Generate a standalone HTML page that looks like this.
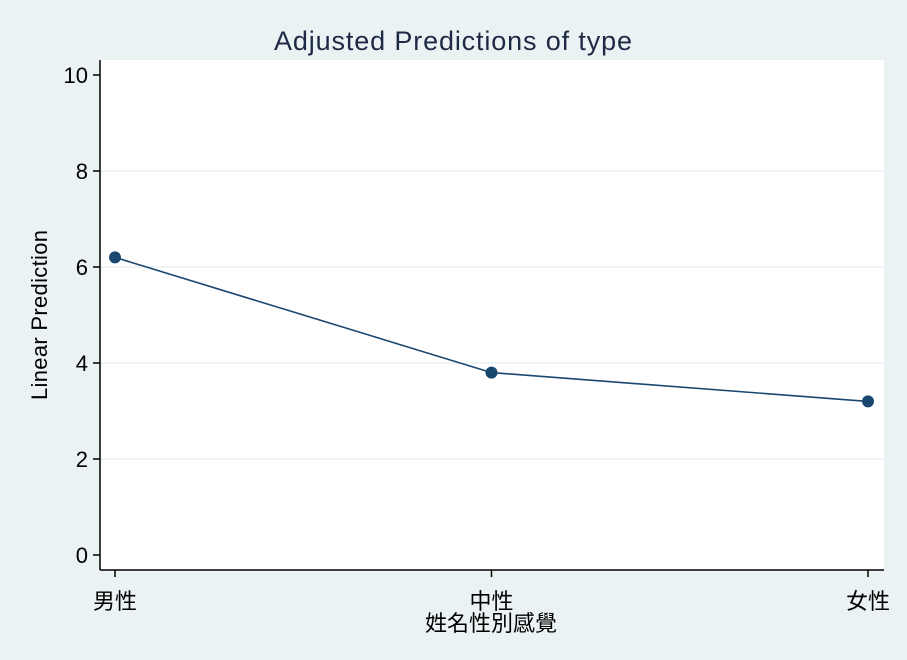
<!DOCTYPE html>
<html><head><meta charset="utf-8"><style>
body{margin:0;background:#eaf2f3;}
svg{display:block;font-family:"Liberation Sans","Noto Sans CJK TC",sans-serif;}
</style></head><body>
<svg id="c" width="907" height="660">
<rect x="0" y="0" width="907" height="660" fill="#eaf2f3"/>
<rect x="100" y="60" width="784" height="510" fill="#ffffff"/>
<text x="453" y="50" text-anchor="middle" font-size="27" textLength="358" fill="#1e2a45">Adjusted Predictions of type</text>
<text transform="translate(47,315) rotate(-90)" text-anchor="middle" font-size="22" textLength="170" fill="#000">Linear Prediction</text>
<text x="491" y="631" text-anchor="middle" font-size="22" fill="#000">姓名性別感覺</text>
<g id="grid"></g><g id="axes"></g><g id="marks"></g>
</svg>
<script>
const categories=["男性","中性","女性"];
const values=[6.2,3.8,3.2];
const yTicks=[0,2,4,6,8,10];
const NS="http://www.w3.org/2000/svg";
const y=v=>555-v*48;
const x=i=>115+i*376.5;
function mk(t,a,p){const e=document.createElementNS(NS,t);for(const k in a)e.setAttribute(k,a[k]);p.appendChild(e);return e;}
const g=document.getElementById('grid'),ax=document.getElementById('axes'),m=document.getElementById('marks');
mk('line',{x1:100,y1:60,x2:100,y2:570,stroke:'#000','stroke-width':1.5},ax);
mk('line',{x1:100,y1:570,x2:884,y2:570,stroke:'#000','stroke-width':1.5},ax);
yTicks.forEach(t=>{
 if(t>0&&t<10){const l=mk('line',{x1:101,x2:884,y1:y(t),y2:y(t),stroke:'#eaf2f3','stroke-width':1.5},g);
 
 }
 mk('line',{x1:93,x2:100,y1:y(t),y2:y(t),stroke:'#000','stroke-width':1.5},ax);
 const tx=mk('text',{x:88,y:y(t)+8,'text-anchor':'end','font-size':22,fill:'#000'},ax);
 tx.textContent=t;
 
 
});
categories.forEach((c,i)=>{
 mk('line',{x1:x(i),x2:x(i),y1:570,y2:577,stroke:'#000','stroke-width':1.5},ax);
 const tx=mk('text',{x:x(i),y:609,'text-anchor':'middle','font-size':22,fill:'#000'},ax);
 tx.textContent=c;
 
 
});
const pl=mk('polyline',{points:values.map((v,i)=>x(i)+','+y(v)).join(' '),fill:'none',stroke:'#1a476f','stroke-width':1.6},m);


values.forEach((v,i)=>{
 const c=mk('circle',{cx:x(i),cy:y(v),r:6,fill:'#1a476f'},m);
 
 
});
</script>
</body></html>
